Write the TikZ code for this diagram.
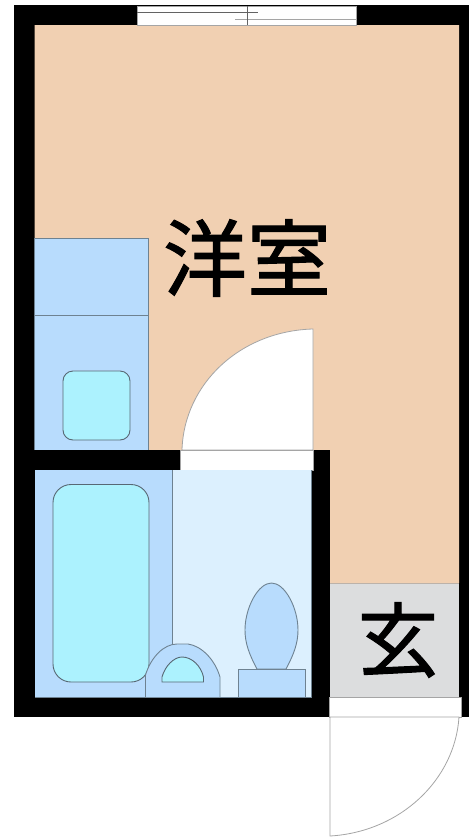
\documentclass[tikz,border=0pt]{standalone}
\usepackage{fontspec}
\newfontfamily\cjk[FakeBold=1.2]{Noto Sans CJK JP}
\definecolor{roomc}{RGB}{241,208,178}
\definecolor{fixc}{RGB}{184,220,253}
\definecolor{tubc}{RGB}{172,242,254}
\definecolor{lightc}{RGB}{220,240,254}
\definecolor{hallc}{RGB}{220,221,222}
\definecolor{edgec}{RGB}{110,130,145}
\definecolor{doorc}{RGB}{165,165,165}
\tikzset{
  wall/.style={fill=black,draw=none},
  fixture/.style={fill=fixc,draw=edgec,line width=0.9pt},
  basin/.style={fill=tubc,draw=edgec!80!black,line width=0.9pt},
  opening/.style={fill=white,draw=doorc,line width=0.8pt},
  label/.style={font=\cjk\fontsize{84}{84}\selectfont,text=black,inner sep=0pt},
  labelsmall/.style={font=\cjk\fontsize{81}{81}\selectfont,text=black,inner sep=0pt}
}
\begin{document}
\begin{tikzpicture}[x=1pt,y=-1pt]
\useasboundingbox (0,0) rectangle (469,838);
% walls
\fill[wall] (14,5) rectangle (469,717);
% room
\fill[roomc] (34.5,25) -- (459,25) -- (459,583) -- (330,583) -- (330,450) -- (34.5,450) -- cycle;
% hall
\fill[hallc] (330,583) rectangle (459,697);
\draw[doorc!70!roomc,line width=0.6pt] (330,583) -- (459,583);
% wall stub between room and bath
\fill[wall] (14,450) rectangle (330,470);
\fill[wall] (311,450) rectangle (330,717);
% window
\draw[opening] (137,6) rectangle (356,25);
\draw[doorc!60!black,line width=0.6pt] (137,12) -- (258,12);
\draw[doorc,line width=0.6pt] (235,19) -- (356,19);
\draw[doorc!60!black,line width=0.6pt] (247,6) -- (247,25);
% closet
\draw[fixture] (34.5,450) -- (34.5,238) -- (148.5,238) -- (148.5,450);
\draw[edgec,line width=0.7pt] (34.5,315.5) -- (148.5,315.5);
\draw[basin,rounded corners=10pt] (63,371) rectangle (130,440);
% room door
\draw[opening] (182,450) .. controls (184,384) and (240,331) .. (313,329) -- (313,450) -- cycle;
\draw[opening] (180.5,450.5) rectangle (313,470);
% bathroom
\fill[fixc] (34.5,470) rectangle (172.5,697);
\fill[lightc] (172.5,470) rectangle (311,697);
\draw[edgec,line width=0.7pt] (172.5,470) -- (172.5,650);
\draw[edgec,line width=0.7pt] (311,470) -- (311,697) -- (34.5,697);
\draw[basin,rounded corners=18pt] (53,484.5) rectangle (149,682);
% sink
\draw[fixture] (145.5,697) -- (145.5,675) .. controls (151,657) and (164,644) .. (177,644) -- (188,644) .. controls (202,646) and (215,660) .. (220,677) -- (220,697);
\draw[basin] (162,682) -- (162,677) .. controls (165,666) and (174,657) .. (182,657) .. controls (192,657) and (201,666) .. (203.5,677) -- (203.5,682) -- cycle;
% toilet
\draw[fixture] (257,669) .. controls (249,654) and (245,643) .. (245,630) .. controls (245,608) and (258,583) .. (271.5,583) .. controls (285,583) and (298,608) .. (298,630) .. controls (298,643) and (294,654) .. (286,669) -- cycle;
\draw[fixture] (238,697) -- (238,669) -- (305,669) -- (305,697);
\draw[edgec,line width=0.7pt] (238,697) -- (305,697);
% entrance door
\draw[opening] (329.5,697) rectangle (461,717);
\draw[opening] (330,717) -- (459,717) .. controls (455,780) and (400,832) .. (330,836) -- cycle;
% labels
\node[label] (yoshitsu) at (247,258) {洋室};
\node[labelsmall] (genkan) at (398,640) {玄};
\end{tikzpicture}
\end{document}
